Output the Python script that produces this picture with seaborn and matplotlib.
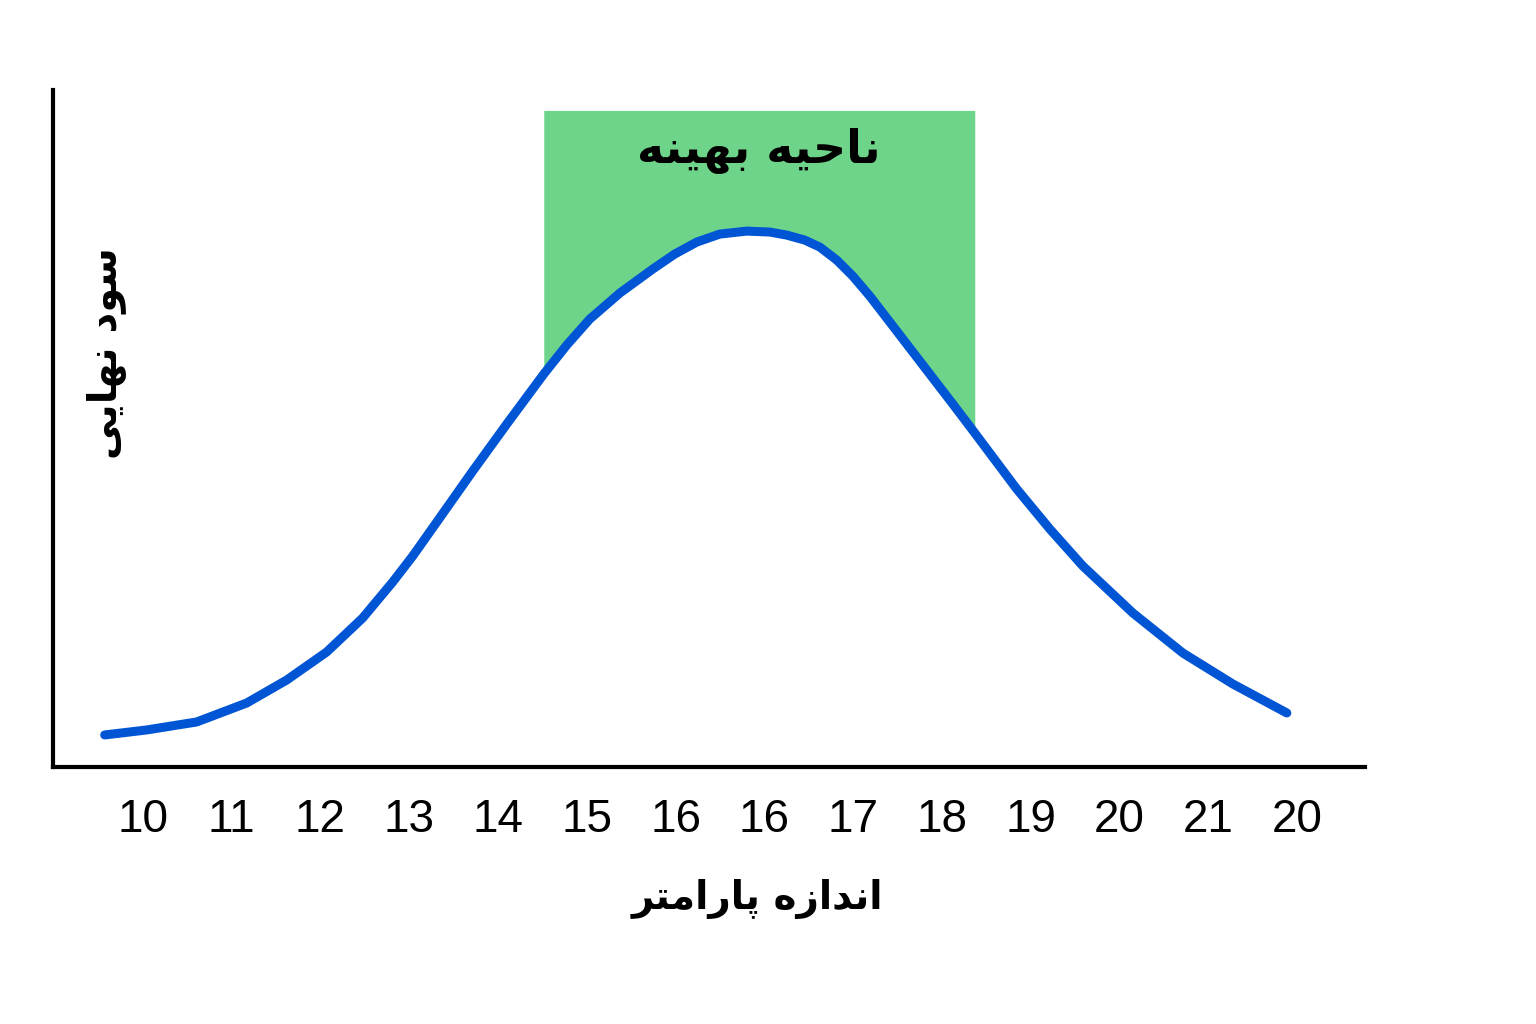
import numpy as np
import matplotlib
matplotlib.use("Agg")
import matplotlib.pyplot as plt
import seaborn as sns

# values (x in tick-slot units, y in % of axis height)
tick_labels = ["10", "11", "12", "13", "14", "15", "16", "16", "17", "18", "19", "20", "21", "20"]
curve_x = [-0.428, 0.045, 0.608, 1.171, 1.622, 2.072, 2.477, 2.815, 3.041, 3.423, 3.716, 4.099,
           4.516, 4.775, 5.034, 5.372, 5.743, 5.991, 6.239, 6.498, 6.802, 7.061, 7.252, 7.455,
           7.624, 7.815, 7.995, 8.187, 8.378, 8.750, 9.122, 9.369, 9.842, 10.214, 10.586,
           11.149, 11.712, 12.275, 12.883]
curve_y = [4.73, 5.47, 6.65, 9.45, 12.85, 16.99, 22.01, 27.33, 31.17, 38.26, 43.72, 50.66,
           58.05, 62.33, 66.17, 70.01, 73.56, 75.78, 77.55, 78.73, 79.17, 79.03, 78.58, 77.84,
           76.81, 74.89, 72.53, 69.57, 66.32, 59.97, 53.62, 49.34, 41.06, 35.16, 29.69,
           22.75, 16.84, 12.26, 7.98]
zone_start, zone_end, zone_top = 4.516, 9.369, 97.0

title_txt = "ناحیه بهینه"
xlabel_txt = "اندازه پارامتر"
ylabel_txt = "سود نهایی"

# simple persian shaping (matplotlib has no bidi / joining support)
FORMS = {
    "ا": ("\uFE8D", "\uFE8E", None, None),
    "د": ("\uFEA9", "\uFEAA", None, None),
    "ر": ("\uFEAD", "\uFEAE", None, None),
    "ز": ("\uFEAF", "\uFEB0", None, None),
    "و": ("\uFEED", "\uFEEE", None, None),
    "ب": ("\uFE8F", "\uFE90", "\uFE91", "\uFE92"),
    "ت": ("\uFE95", "\uFE96", "\uFE97", "\uFE98"),
    "ح": ("\uFEA1", "\uFEA2", "\uFEA3", "\uFEA4"),
    "س": ("\uFEB1", "\uFEB2", "\uFEB3", "\uFEB4"),
    "م": ("\uFEE1", "\uFEE2", "\uFEE3", "\uFEE4"),
    "ن": ("\uFEE5", "\uFEE6", "\uFEE7", "\uFEE8"),
    "ه": ("\uFEE9", "\uFEEA", "\uFEEB", "\uFEEC"),
    "ی": ("\uFBFC", "\uFBFD", "\uFBFE", "\uFBFF"),
    "پ": ("\uFB56", "\uFB57", "\uFB58", "\uFB59"),
}

def shape(s):
    out = []
    for i, ch in enumerate(s):
        if ch not in FORMS:
            out.append(ch)
            continue
        iso, fin, ini, med = FORMS[ch]
        prev = s[i - 1] if i > 0 else ""
        nxt = s[i + 1] if i + 1 < len(s) else ""
        pj = prev in FORMS and FORMS[prev][2] is not None
        nj = ini is not None and nxt in FORMS
        if pj and nj:
            out.append(med)
        elif pj:
            out.append(fin)
        elif nj:
            out.append(ini)
        else:
            out.append(iso)
    return "".join(out)[::-1]

sns.set_theme(style="white")
plt.rcParams["font.family"] = ["Liberation Sans", "DejaVu Sans"]

fig = plt.figure(figsize=(15.36, 10.24), dpi=100)
ax = fig.add_axes([0.0345, 0.251, 0.854, 0.661])

cx = np.array(curve_x)
cy = np.array(curve_y)
mask = (cx >= zone_start) & (cx <= zone_end)
ax.fill_between(cx, cy, zone_top, where=mask, color="#6dd48a", linewidth=0, zorder=1)

sns.lineplot(x=curve_x, y=curve_y, ax=ax, color="#0055d4", linewidth=6.5,
             sort=False, zorder=3, solid_capstyle="round", solid_joinstyle="round")

ax.set_xlim(-1.01, 13.76)
ax.set_ylim(0, 100)
ax.set_xticks(range(len(tick_labels)))
ax.set_xticklabels(tick_labels, fontsize=33, color="black")
ax.tick_params(axis="x", length=0, pad=22)
ax.set_yticks([])

for side in ["top", "right"]:
    ax.spines[side].set_visible(False)
for side in ["left", "bottom"]:
    ax.spines[side].set_color("black")
    ax.spines[side].set_linewidth(3)

ax.text((zone_start + zone_end) / 2, 91.0, shape(title_txt), ha="center", va="center",
        fontsize=33, fontweight="bold", family=["DejaVu Sans"], color="black")
fig.text(0.493, 0.122, shape(xlabel_txt), ha="center", va="center",
         fontsize=28, fontweight="bold", family=["DejaVu Sans"], color="black")
fig.text(0.069, 0.655, shape(ylabel_txt), ha="center", va="center", rotation=90,
         fontsize=29, fontweight="bold", family=["DejaVu Sans"], color="black")

fig.savefig("out.png", dpi=100, facecolor="white")
